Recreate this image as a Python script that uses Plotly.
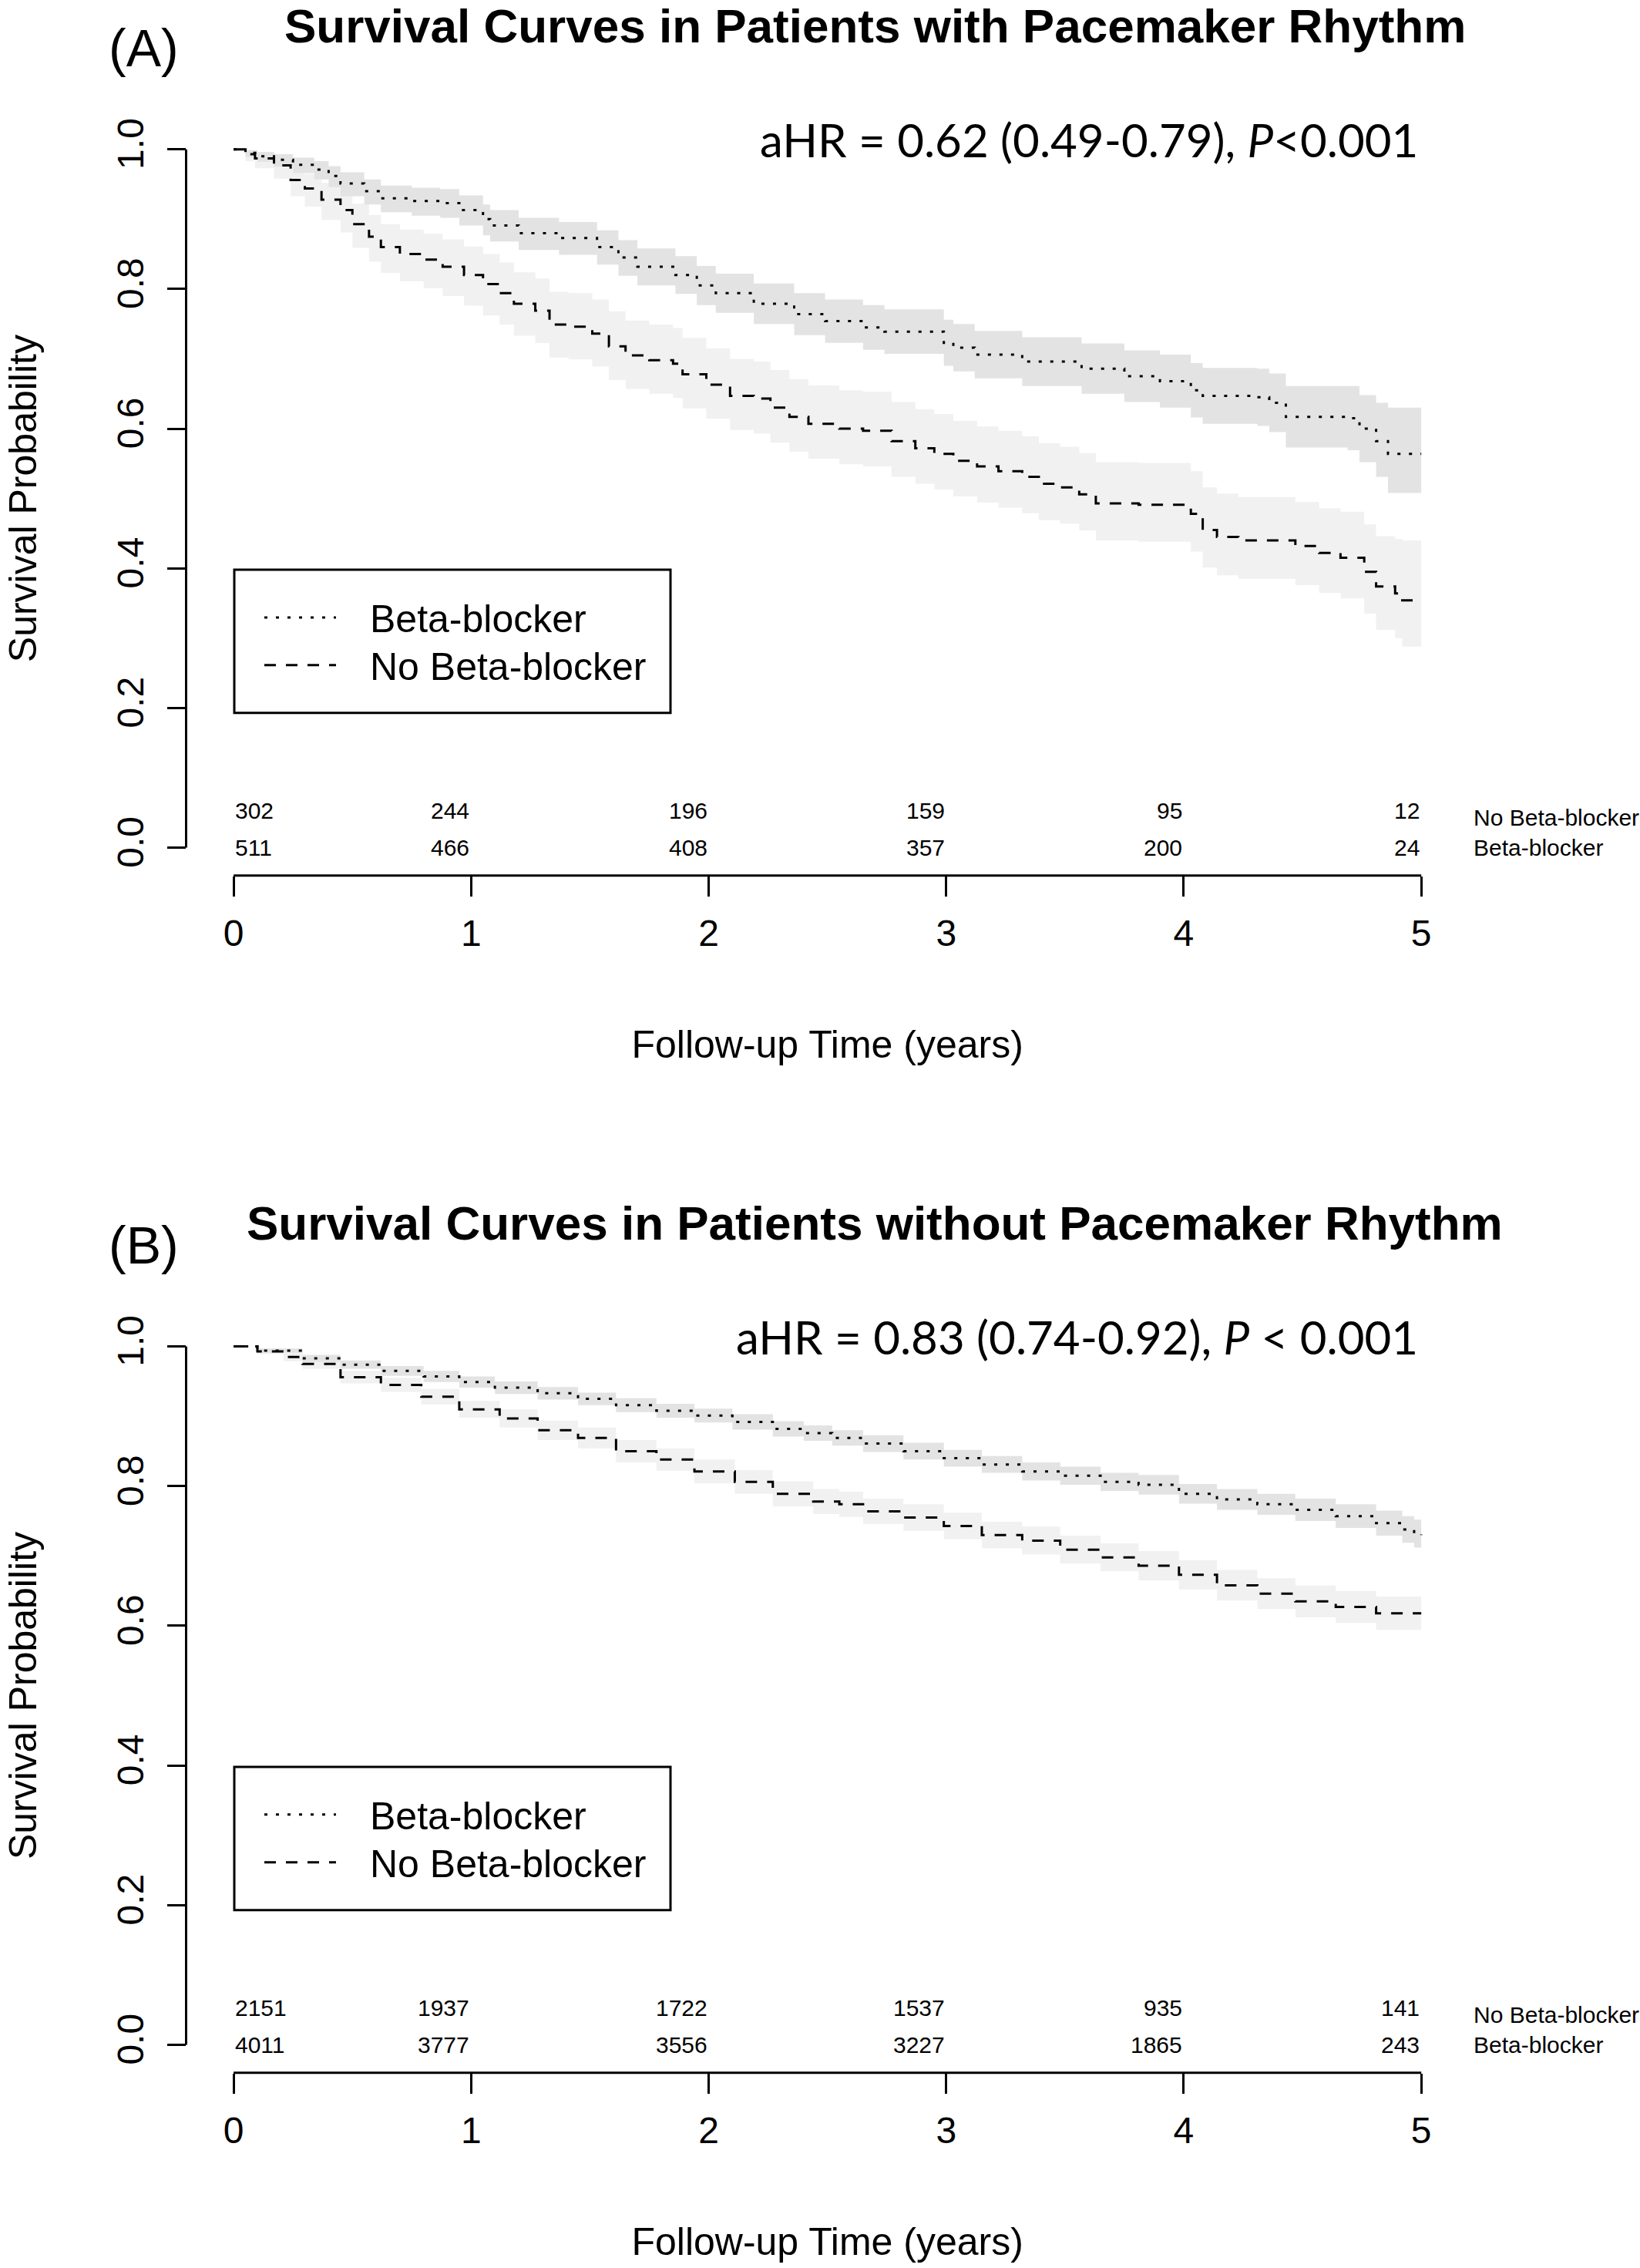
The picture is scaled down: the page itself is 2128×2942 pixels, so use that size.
import plotly.graph_objects as go

W, H = 2128, 2942

# ---------------- data ----------------
# Panel A (pacemaker rhythm): Beta-blocker
A_bb_t = [0, 0.05, 0.10, 0.17, 0.25, 0.34, 0.40, 0.45, 0.55, 0.62, 0.75, 0.87, 0.95, 1.05, 1.08, 1.20,
          1.37, 1.53, 1.62, 1.70, 1.86, 1.95, 2.03, 2.19, 2.36, 2.49, 2.65, 2.74, 2.99, 3.03, 3.12, 3.32,
          3.57, 3.75, 3.90, 4.03, 4.08, 4.31, 4.36, 4.43, 4.69, 4.74, 4.81, 4.86, 5.0]
A_bb_s = [1.0, 0.995, 0.990, 0.985, 0.978, 0.971, 0.962, 0.951, 0.940, 0.930, 0.926, 0.923, 0.913, 0.900,
          0.891, 0.880, 0.873, 0.860, 0.845, 0.832, 0.820, 0.805, 0.794, 0.779, 0.764, 0.754, 0.745, 0.739,
          0.723, 0.716, 0.706, 0.696, 0.686, 0.675, 0.668, 0.655, 0.647, 0.645, 0.637, 0.617, 0.615, 0.600,
          0.582, 0.564, 0.564]
A_bb_lo = [1.0, 0.989, 0.982, 0.975, 0.966, 0.957, 0.946, 0.933, 0.921, 0.910, 0.905, 0.902, 0.891, 0.877,
           0.868, 0.856, 0.849, 0.835, 0.819, 0.805, 0.793, 0.777, 0.766, 0.750, 0.734, 0.723, 0.713, 0.707,
           0.690, 0.682, 0.672, 0.661, 0.650, 0.638, 0.630, 0.616, 0.607, 0.604, 0.595, 0.573, 0.569, 0.552,
           0.531, 0.508, 0.506]
A_bb_hi = [1.0, 0.999, 0.996, 0.993, 0.988, 0.983, 0.976, 0.967, 0.957, 0.948, 0.945, 0.943, 0.934, 0.921,
           0.913, 0.902, 0.896, 0.884, 0.870, 0.858, 0.847, 0.833, 0.822, 0.808, 0.794, 0.785, 0.777, 0.771,
           0.756, 0.750, 0.740, 0.731, 0.722, 0.712, 0.706, 0.694, 0.687, 0.686, 0.679, 0.661, 0.661, 0.648,
           0.637, 0.630, 0.630]

# Panel A: No Beta-blocker
A_nobb_t = [0, 0.05, 0.09, 0.17, 0.24, 0.30, 0.37, 0.45, 0.50, 0.57, 0.62, 0.70, 0.80, 0.88, 0.97, 1.05,
            1.12, 1.18, 1.27, 1.33, 1.41, 1.51, 1.58, 1.65, 1.75, 1.85, 1.89, 1.99, 2.09, 2.19, 2.26, 2.34,
            2.42, 2.55, 2.65, 2.77, 2.87, 2.95, 3.03, 3.13, 3.22, 3.32, 3.39, 3.48, 3.56, 3.63, 3.81, 4.03,
            4.08, 4.14, 4.23, 4.47, 4.57, 4.66, 4.76, 4.81, 4.89, 4.92, 5.0]
A_nobb_s = [1.0, 0.993, 0.987, 0.977, 0.956, 0.944, 0.928, 0.913, 0.893, 0.875, 0.860, 0.850, 0.842, 0.832,
            0.820, 0.807, 0.794, 0.779, 0.769, 0.749, 0.746, 0.736, 0.718, 0.705, 0.698, 0.693, 0.678, 0.663,
            0.647, 0.643, 0.630, 0.617, 0.607, 0.600, 0.597, 0.582, 0.572, 0.564, 0.554, 0.546, 0.539, 0.531,
            0.521, 0.516, 0.506, 0.493, 0.491, 0.478, 0.455, 0.445, 0.440, 0.432, 0.422, 0.415, 0.395, 0.374,
            0.364, 0.354, 0.354]
A_nobb_lo = [1.0, 0.983, 0.973, 0.958, 0.933, 0.918, 0.899, 0.881, 0.859, 0.839, 0.823, 0.811, 0.801, 0.790,
             0.776, 0.762, 0.749, 0.733, 0.723, 0.702, 0.699, 0.689, 0.670, 0.657, 0.650, 0.644, 0.629, 0.614,
             0.598, 0.593, 0.580, 0.567, 0.557, 0.549, 0.546, 0.531, 0.521, 0.513, 0.503, 0.494, 0.487, 0.479,
             0.469, 0.464, 0.454, 0.440, 0.438, 0.424, 0.401, 0.390, 0.385, 0.376, 0.365, 0.357, 0.335, 0.312,
             0.300, 0.288, 0.286]
A_nobb_hi = [1.0, 0.999, 0.996, 0.991, 0.974, 0.965, 0.952, 0.940, 0.922, 0.906, 0.893, 0.885, 0.879, 0.871,
             0.861, 0.850, 0.838, 0.824, 0.815, 0.796, 0.794, 0.785, 0.768, 0.755, 0.749, 0.744, 0.730, 0.715,
             0.700, 0.696, 0.684, 0.671, 0.662, 0.655, 0.653, 0.638, 0.628, 0.621, 0.611, 0.603, 0.597, 0.589,
             0.579, 0.574, 0.565, 0.552, 0.551, 0.539, 0.516, 0.507, 0.502, 0.495, 0.486, 0.481, 0.463, 0.446,
             0.442, 0.440, 0.440]

# Panel B (no pacemaker rhythm): Beta-blocker
B_bb_t = [0, 0.10, 0.29, 0.45, 0.62, 0.80, 0.95, 1.10, 1.28, 1.45, 1.61, 1.78, 1.94, 2.10, 2.27, 2.40, 2.52,
          2.65, 2.82, 2.99, 3.15, 3.32, 3.48, 3.65, 3.81, 3.98, 4.14, 4.31, 4.47, 4.64, 4.81, 4.92, 4.97, 5.0]
B_bb_s = [1.0, 0.994, 0.983, 0.974, 0.965, 0.957, 0.949, 0.941, 0.933, 0.925, 0.916, 0.908, 0.901, 0.892,
          0.882, 0.876, 0.869, 0.861, 0.850, 0.840, 0.831, 0.821, 0.815, 0.806, 0.802, 0.789, 0.781, 0.774,
          0.766, 0.757, 0.747, 0.738, 0.732, 0.730]
B_bb_lo = [1.0, 0.991, 0.978, 0.968, 0.958, 0.949, 0.941, 0.932, 0.924, 0.916, 0.906, 0.898, 0.891, 0.881,
           0.871, 0.865, 0.858, 0.849, 0.838, 0.828, 0.819, 0.808, 0.802, 0.793, 0.788, 0.775, 0.766, 0.759,
           0.750, 0.740, 0.729, 0.719, 0.712, 0.710]
B_bb_hi = [1.0, 0.997, 0.988, 0.980, 0.972, 0.965, 0.957, 0.950, 0.942, 0.934, 0.926, 0.918, 0.911, 0.903,
           0.893, 0.887, 0.880, 0.873, 0.862, 0.852, 0.843, 0.834, 0.828, 0.819, 0.816, 0.803, 0.796, 0.789,
           0.782, 0.774, 0.765, 0.757, 0.752, 0.750]

# Panel B: No Beta-blocker
B_nobb_t = [0, 0.10, 0.21, 0.29, 0.45, 0.62, 0.79, 0.95, 1.12, 1.28, 1.45, 1.61, 1.78, 1.94, 2.11, 2.27,
            2.44, 2.55, 2.65, 2.82, 2.99, 3.15, 3.32, 3.48, 3.65, 3.81, 3.98, 4.14, 4.31, 4.47, 4.64, 4.81, 5.0]
B_nobb_s = [1.0, 0.993, 0.985, 0.975, 0.956, 0.945, 0.928, 0.910, 0.897, 0.880, 0.869, 0.850, 0.838, 0.821,
            0.806, 0.789, 0.778, 0.774, 0.764, 0.755, 0.743, 0.730, 0.722, 0.709, 0.698, 0.686, 0.673, 0.658,
            0.646, 0.635, 0.627, 0.618, 0.618]
B_nobb_lo = [1.0, 0.989, 0.979, 0.968, 0.947, 0.935, 0.917, 0.898, 0.884, 0.866, 0.854, 0.834, 0.822, 0.804,
             0.789, 0.771, 0.760, 0.756, 0.746, 0.736, 0.724, 0.711, 0.702, 0.689, 0.678, 0.665, 0.652, 0.636,
             0.624, 0.612, 0.604, 0.594, 0.594]
B_nobb_hi = [1.0, 0.997, 0.991, 0.982, 0.965, 0.955, 0.939, 0.922, 0.910, 0.894, 0.884, 0.866, 0.854, 0.838,
             0.823, 0.807, 0.796, 0.792, 0.782, 0.774, 0.762, 0.749, 0.742, 0.729, 0.718, 0.707, 0.694, 0.680,
             0.668, 0.658, 0.650, 0.642, 0.642]

# numbers at risk
risk_times = [0, 1, 2, 3, 4, 5]
A_risk_nobb = [302, 244, 196, 159, 95, 12]
A_risk_bb = [511, 466, 408, 357, 200, 24]
B_risk_nobb = [2151, 1937, 1722, 1537, 935, 141]
B_risk_bb = [4011, 3777, 3556, 3227, 1865, 243]

titles = ["Survival Curves in Patients with Pacemaker Rhythm",
          "Survival Curves in Patients without Pacemaker Rhythm"]
panel_tags = ["(A)", "(B)"]
hr_texts = ["aHR = 0.62 (0.49-0.79), <i>P</i><0.001",
            "aHR = 0.83 (0.74-0.92), <i>P</i> < 0.001"]
group_names = ["Beta-blocker", "No Beta-blocker"]
x_ticks = [0, 1, 2, 3, 4, 5]
y_ticks = [0, 0.2, 0.4, 0.6, 0.8, 1.0]
y_ticktext = ["0.0", "0.2", "0.4", "0.6", "0.8", "1.0"]

for a, b in [(A_bb_t, A_bb_s), (A_bb_t, A_bb_lo), (A_bb_t, A_bb_hi),
             (A_nobb_t, A_nobb_s), (A_nobb_t, A_nobb_lo), (A_nobb_t, A_nobb_hi),
             (B_bb_t, B_bb_s), (B_bb_t, B_bb_lo), (B_bb_t, B_bb_hi),
             (B_nobb_t, B_nobb_s), (B_nobb_t, B_nobb_lo), (B_nobb_t, B_nobb_hi)]:
    assert len(a) == len(b), (len(a), len(b))

# ---------------- style ----------------
FONT = "Liberation Sans, Arial, Helvetica, sans-serif"
HRFONT = "Lato, Open Sans, sans-serif"
BB_BAND = "#e3e3e3"
NOBB_BAND = "#f1f1f1"
DOT = "4px,11px"
DASH = "15px,13px"
LW = 3


def px_x(p):
    return p / W


def px_y(p):
    return 1 - p / H


# plot-area pixel geometry (R style: 4% padding around data range)
x_left, x_right = 241.5, 1905.8
panels_px = [(153.7, 1133.3), (1708.7, 2688.3)]  # (top, bottom)
panel_shift = [0, 1555]

fig = go.Figure()

panels = [
    dict(bb=(A_bb_t, A_bb_s, A_bb_lo, A_bb_hi), nobb=(A_nobb_t, A_nobb_s, A_nobb_lo, A_nobb_hi),
         risk=(A_risk_nobb, A_risk_bb)),
    dict(bb=(B_bb_t, B_bb_s, B_bb_lo, B_bb_hi), nobb=(B_nobb_t, B_nobb_s, B_nobb_lo, B_nobb_hi),
         risk=(B_risk_nobb, B_risk_bb)),
]

annotations = []
shapes = []

for i, p in enumerate(panels):
    xa = "x" if i == 0 else "x2"
    ya = "y" if i == 0 else "y2"
    # confidence bands
    for key, col in [("nobb", NOBB_BAND), ("bb", BB_BAND)]:
        t, s, lo, hi = p[key]
        fig.add_trace(go.Scatter(x=t, y=lo, mode="lines", line=dict(width=0, shape="hv"),
                                 hoverinfo="skip", showlegend=False, xaxis=xa, yaxis=ya))
        fig.add_trace(go.Scatter(x=t, y=hi, mode="lines", line=dict(width=0, shape="hv"),
                                 fill="tonexty", fillcolor=col, hoverinfo="skip",
                                 showlegend=False, xaxis=xa, yaxis=ya))
    # survival curves
    t, s, lo, hi = p["bb"]
    fig.add_trace(go.Scatter(x=t, y=s, mode="lines", name=group_names[0],
                             line=dict(color="black", width=LW, dash=DOT, shape="hv"),
                             showlegend=False, xaxis=xa, yaxis=ya))
    t, s, lo, hi = p["nobb"]
    fig.add_trace(go.Scatter(x=t, y=s, mode="lines", name=group_names[1],
                             line=dict(color="black", width=LW, dash=DASH, shape="hv"),
                             showlegend=False, xaxis=xa, yaxis=ya))

    # axis lines spanning only the tick range
    shapes.append(dict(type="line", xref=xa, yref=ya + " domain", x0=0, x1=5, y0=0, y1=0,
                       line=dict(color="black", width=3)))
    shapes.append(dict(type="line", xref=xa + " domain", yref=ya, x0=0, x1=0, y0=0, y1=1,
                       line=dict(color="black", width=3)))

    off = panel_shift[i]
    # title + tag + HR text
    annotations.append(dict(text="<b>" + titles[i] + "</b>", x=px_x(1135), y=px_y(30 + off),
                            xref="paper", yref="paper", xanchor="center", yanchor="middle",
                            showarrow=False, font=dict(family=FONT, size=62, color="black")))
    annotations.append(dict(text=panel_tags[i], x=px_x(186), y=px_y(58 + off),
                            xref="paper", yref="paper", xanchor="center", yanchor="middle",
                            showarrow=False, font=dict(family=FONT, size=68, color="black")))
    annotations.append(dict(text=hr_texts[i], x=px_x(1842), y=px_y(177 + off),
                            xref="paper", yref="paper", xanchor="right", yanchor="middle",
                            showarrow=False, font=dict(family=HRFONT, size=60, color="black")))
    # numbers at risk
    nobb_r, bb_r = p["risk"]
    for row_vals, yv in [(nobb_r, 0.053), (bb_r, 0.0)]:
        for k, (tt, v) in enumerate(zip(risk_times, row_vals)):
            annotations.append(dict(text=str(v), x=tt, y=yv, xref=xa, yref=ya,
                                    xanchor="left" if k == 0 else "right", yanchor="middle",
                                    showarrow=False, font=dict(family=FONT, size=30, color="black")))
    for name, yv in [(group_names[1], 0.043), (group_names[0], 0.0)]:
        annotations.append(dict(text=name, x=px_x(1910), y=yv, xref="paper", yref=ya,
                                xanchor="left", yanchor="middle", showarrow=False,
                                font=dict(family=FONT, size=30, color="black")))
    # legend box (drawn)
    shapes.append(dict(type="rect", xref="paper", yref="paper",
                       x0=px_x(304), x1=px_x(870), y0=px_y(922 + off), y1=px_y(736 + off),
                       line=dict(color="black", width=3), fillcolor="rgba(0,0,0,0)"))
    for name, dash, ly in [(group_names[0], DOT, 798), (group_names[1], DASH, 860)]:
        shapes.append(dict(type="line", xref="paper", yref="paper",
                           x0=px_x(343), x1=px_x(436), y0=px_y(ly + off), y1=px_y(ly + off),
                           line=dict(color="black", width=LW, dash=dash)))
        annotations.append(dict(text=name, x=px_x(478), y=px_y(ly + 2 + off), xref="paper", yref="paper",
                                xanchor="left", yanchor="middle", showarrow=False,
                                font=dict(family=FONT, size=50, color="black")))

axis_common = dict(showgrid=False, zeroline=False, showline=False, ticks="outside",
                   tickcolor="black", tickwidth=2.5,
                   tickfont=dict(family=FONT, size=48, color="black"))

layout_axes = {}
for i in range(2):
    top, bot = panels_px[i]
    xs = "xaxis" if i == 0 else "xaxis2"
    ys = "yaxis" if i == 0 else "yaxis2"
    layout_axes[xs] = dict(axis_common, domain=[px_x(x_left), px_x(x_right)], range=[-0.2, 5.2],
                           tickvals=x_ticks, ticklen=26, ticklabelstandoff=7,
                           anchor="y" if i == 0 else "y2",
                           title=dict(text="Follow-up Time (years)", standoff=100,
                                      font=dict(family=FONT, size=50, color="black")))
    layout_axes[ys] = dict(axis_common, domain=[px_y(bot), px_y(top)], range=[-0.04, 1.04],
                           tickvals=y_ticks, ticktext=y_ticktext, ticklen=24, tickangle=-90,
                           ticklabelstandoff=11, anchor="x" if i == 0 else "x2",
                           title=dict(text="Survival Probability", standoff=79,
                                      font=dict(family=FONT, size=50, color="black")))

fig.update_layout(width=W, height=H, margin=dict(l=0, r=0, t=0, b=0),
                  paper_bgcolor="white", plot_bgcolor="white",
                  showlegend=False, annotations=annotations, shapes=shapes, **layout_axes)

fig.write_html("out.html", config={"displayModeBar": False},
               post_script="document.body.style.margin='0px';document.body.style.overflow='hidden';")
